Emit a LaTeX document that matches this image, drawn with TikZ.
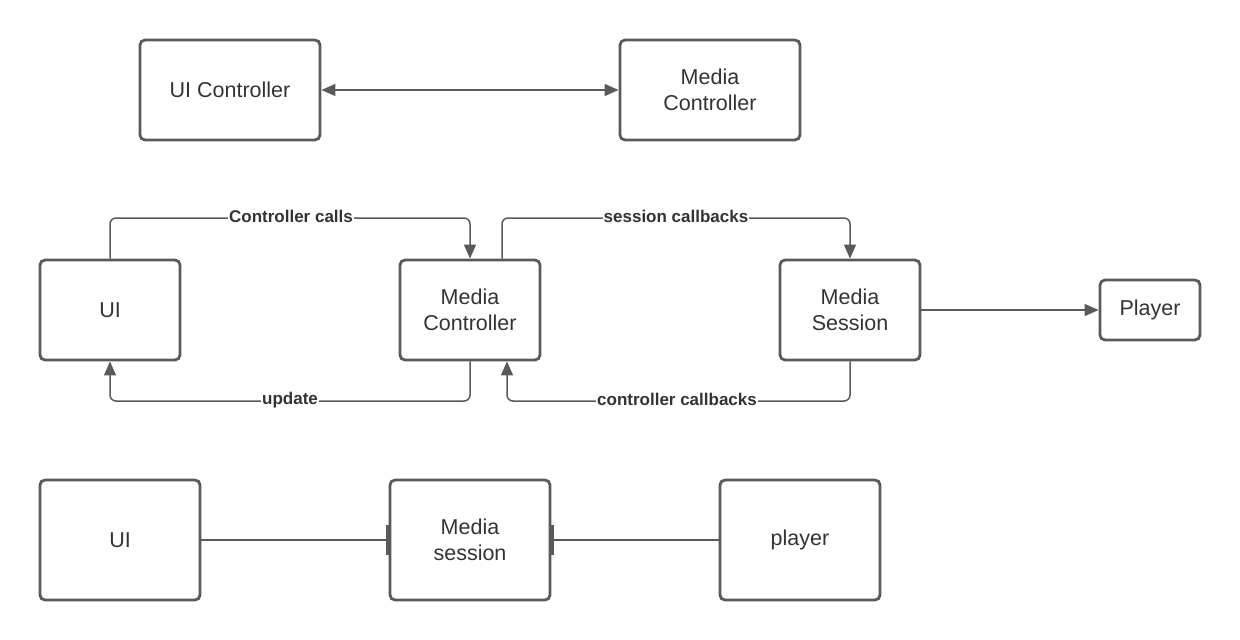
\documentclass[tikz,border=0pt]{standalone}
\usepackage{fontspec}
\setmainfont{Liberation Sans}
\usetikzlibrary{arrows.meta}
\definecolor{ln}{HTML}{5A5A5A}
\definecolor{tx}{HTML}{333333}
\begin{document}
\begin{tikzpicture}[x=1pt,y=-1pt,
  box/.style={draw=ln,line width=2.8pt,rounded corners=5pt,fill=white,text=tx,align=center,
    font=\fontsize{21.5}{26}\selectfont,inner sep=0pt},
  conn/.style={draw=ln,line width=1.5pt,rounded corners=6pt},
  tip/.style={-{Triangle[length=14pt,width=12pt]}},
  lbl/.style={fill=white,text=tx,font=\fontsize{17}{20}\bfseries\selectfont,inner sep=1pt}]
\useasboundingbox (0,0) rectangle (1240,640);
% row 1
\node[box,minimum width=180pt,minimum height=100pt] (uic) at (230,90) {UI Controller};
\node[box,minimum width=180pt,minimum height=100pt] (mc1) at (710,90) {Media\\Controller};
\draw[conn,{Triangle[length=14pt,width=12pt]}-{Triangle[length=14pt,width=12pt]}] (uic.east) -- (mc1.west);
% row 2
\node[box,minimum width=140pt,minimum height=100pt] (ui) at (110,310) {UI};
\node[box,minimum width=140pt,minimum height=100pt] (mc) at (470,310) {Media\\Controller};
\node[box,minimum width=140pt,minimum height=100pt] (ms) at (850,310) {Media\\Session};
\node[box,minimum width=100pt,minimum height=60pt] (pl) at (1150,310) {Player};
\coordinate (a1) at (110,218);
\coordinate (a2) at (470,218);
\coordinate (b1) at (502,218);
\coordinate (b2) at (850,218);
\coordinate (c1) at (470,401);
\coordinate (c2) at (110,401);
\coordinate (d1) at (850,401);
\coordinate (d2) at (507,401);
\draw[conn,tip] (ui.north) -- (a1) -- (a2) -- (mc.north);
\draw[conn,tip] (mc.north -| b1) -- (b1) -- (b2) -- (ms.north);
\draw[conn,tip] (mc.south) -- (c1) -- (c2) -- (ui.south);
\draw[conn,tip] (ms.south) -- (d1) -- (d2) -- (mc.south -| d2);
\node[lbl] (l1) at (291,216) {Controller calls};
\node[lbl] (l2) at (676,216) {session callbacks};
\node[lbl] (l3) at (290,400) {update};
\node[lbl] (l4) at (677,399) {controller callbacks};
\draw[conn,tip] (ms.east) -- (pl.west);
% row 3
\node[box,minimum width=160pt,minimum height=120pt] (ui3) at (120,540) {UI};
\node[box,minimum width=160pt,minimum height=120pt] (ms3) at (470,540) {Media\\session};
\node[box,minimum width=160pt,minimum height=120pt] (pl3) at (800,540) {player};
\draw[conn,-{Bar[width=30pt,line width=2.5pt]}] (ui3.east) -- (ms3.west);
\draw[conn,{Bar[width=30pt,line width=2.5pt]}-] (ms3.east) -- (pl3.west);
\end{tikzpicture}
\end{document}
